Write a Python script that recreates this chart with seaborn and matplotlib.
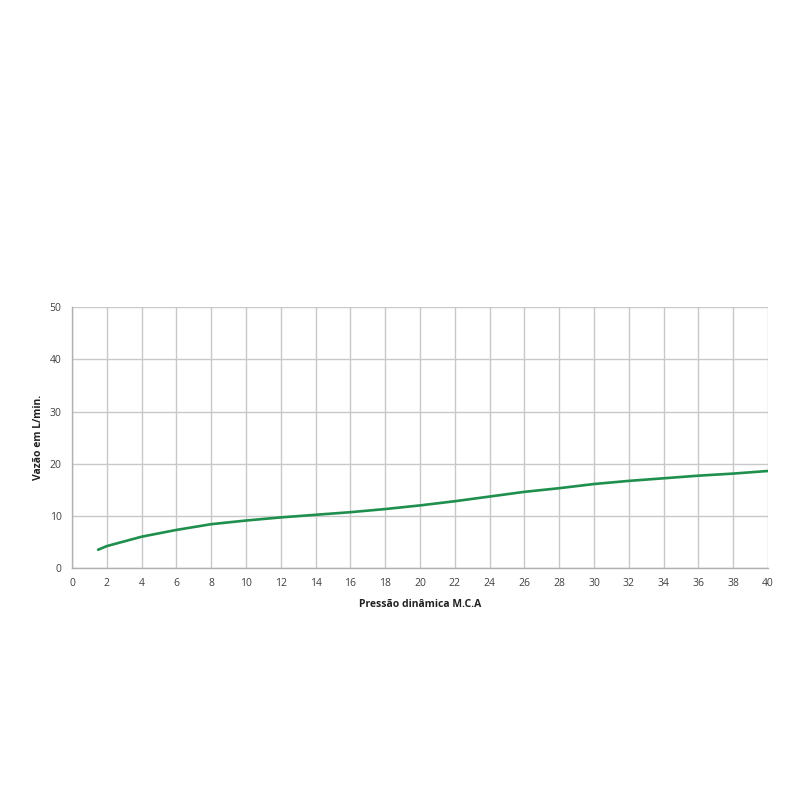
import matplotlib
matplotlib.use("Agg")
import matplotlib.pyplot as plt
import seaborn as sns
import pandas as pd

# Curve
pressao = [1.5, 2, 4, 6, 8, 10, 12, 14, 16, 18, 20, 22, 24, 26, 28, 30, 32, 34, 36, 38, 40]
vazao = [3.5, 4.2, 6.0, 7.3, 8.4, 9.1, 9.7, 10.2, 10.7, 11.3, 12.0, 12.8, 13.7, 14.6, 15.3, 16.1, 16.7, 17.2, 17.7, 18.1, 18.6]
x_ticks = list(range(0, 41, 2))
y_ticks = [0, 10, 20, 30, 40, 50]

df = pd.DataFrame({"pressao": pressao, "vazao": vazao})

sns.set_style("white")
plt.rcParams["font.family"] = ["Open Sans", "DejaVu Sans"]

fig = plt.figure(figsize=(8, 8), dpi=100)
ax = fig.add_axes([0.09, 0.29, 0.87, 0.326])

sns.lineplot(x="pressao", y="vazao", data=df, color="#1f8f4e", linewidth=1.9, ax=ax)

ax.set_xlim(0, 40)
ax.set_ylim(0, 50)
ax.set_xticks(x_ticks)
ax.set_yticks(y_ticks)
ax.grid(True, color="#c8c8c8", linewidth=1.0)
ax.set_axisbelow(True)
for side in ["top", "right"]:
    ax.spines[side].set_visible(False)
for side in ["left", "bottom"]:
    ax.spines[side].set_color("#b0b0b0")
    ax.spines[side].set_linewidth(1.0)
ax.tick_params(axis="both", length=4, width=1, color="#b0b0b0",
               labelsize=7.5, labelcolor="#404040", direction="out")

ax.set_xlabel("Pressão dinâmica M.C.A", fontsize=7.5, fontweight="bold", color="#222222", labelpad=7)
ax.set_ylabel("Vazão em L/min.", fontsize=7.5, fontweight="bold", color="#222222", labelpad=4)

plt.savefig("out.png", dpi=100, facecolor="white")
plt.close()
